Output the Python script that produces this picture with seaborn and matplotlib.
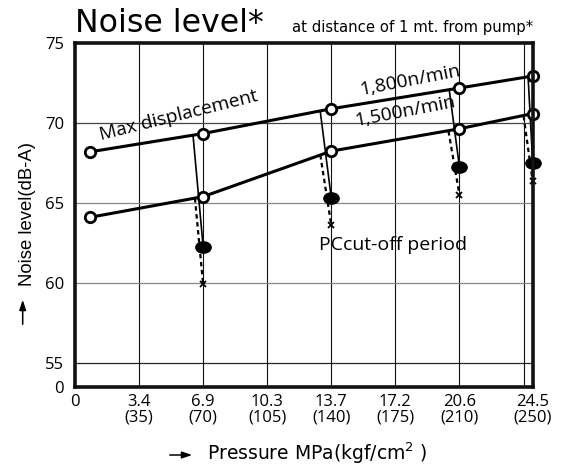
import matplotlib

matplotlib.use("Agg")
import matplotlib.pyplot as plt  # noqa: E402
import seaborn as sns  # noqa: E402
from matplotlib.path import Path  # noqa: E402
from matplotlib.transforms import Affine2D  # noqa: E402

# x axis is laid out in kgf/cm2 (labels give MPa and kgf/cm2)
pressure = [8, 70, 140, 210, 250]
noise_1800 = [68.2, 69.35, 70.9, 72.2, 72.95]
noise_1500 = [64.1, 65.4, 68.25, 69.65, 70.6]

# PC cut-off steps: start on each curve, end at the cut-off level
cut_start_1800_x = [64.5, 134, 204.5, 247.5]
cut_start_1800_y = [69.2, 70.7, 72.0, 72.85]
cut_start_1500_x = [65.5, 134, 204, 245]
cut_start_1500_y = [65.3, 68.0, 69.5, 70.45]
cut_x = [70, 140, 210, 250]
cut_1800 = [62.25, 65.3, 67.25, 67.5]
cut_1500 = [59.9, 63.6, 65.5, 66.35]

xticks = [0, 35, 70, 105, 140, 175, 210, 250]
xtick_labels = ["0", "3.4\n(35)", "6.9\n(70)", "10.3\n(105)", "13.7\n(140)",
                "17.2\n(175)", "20.6\n(210)", "24.5\n(250)"]
xgrid = [35, 70, 105, 140, 175, 210, 245]
yticks = [53.5, 55, 60, 65, 70, 75]
ytick_labels = ["0", "55", "60", "65", "70", "75"]
ygrid = [55, 60, 65, 70]
ygrid_colors = ["#222222", "#888888", "#888888", "#444444"]

sns.set_style("white")
plt.rcParams["font.family"] = ["DejaVu Sans"]
plt.rcParams["text.color"] = "black"
plt.rcParams["xtick.color"] = "black"
plt.rcParams["ytick.color"] = "black"
HUM = ["Open Sans", "DejaVu Sans"]

fig = plt.figure(figsize=(5.63, 4.65), dpi=100)
ax = fig.add_axes([0.1332, 0.1684, 0.9462 - 0.1332, 0.9069 - 0.1684])

# grid
for gx in xgrid:
    ax.axvline(gx, color="#111111", lw=0.8, zorder=1)
for gy, gc in zip(ygrid, ygrid_colors):
    ax.axhline(gy, color=gc, lw=0.9, zorder=1)

# cut-off steps
for x0, y0, x1, y1 in zip(cut_start_1800_x, cut_start_1800_y, cut_x, cut_1800):
    ax.plot([x0, x1], [y0, y1], color="black", lw=1.2, zorder=2, clip_on=False)
for x0, y0, x1, y1 in zip(cut_start_1500_x, cut_start_1500_y, cut_x, cut_1500):
    ax.plot([x0, x1], [y0, y1], color="black", lw=1.6, ls=(0, (2, 1.6)),
            zorder=2, clip_on=False)

# main curves
for series in (noise_1800, noise_1500):
    sns.lineplot(x=pressure, y=series, ax=ax, color="black", lw=2.2,
                 marker="o", markersize=7.5, markerfacecolor="white",
                 markeredgecolor="black", markeredgewidth=2, zorder=4,
                 clip_on=False)

ellipse = Path.unit_circle().transformed(Affine2D().scale(1.35, 1.0))
ax.plot(cut_x, cut_1800, ls="none", marker=ellipse, markersize=11,
        color="black", zorder=5, clip_on=False)
ax.plot(cut_x, cut_1500, ls="none", marker="x", markersize=5,
        markeredgewidth=1.3, color="black", zorder=5, clip_on=False)

ax.set_xlim(0, 250)
ax.set_ylim(53.5, 75)
ax.set_xticks(xticks)
ax.set_xticklabels(xtick_labels, fontfamily=HUM, fontsize=12, linespacing=1.0)
ax.set_yticks(yticks)
ax.set_yticklabels(ytick_labels, fontfamily=HUM, fontsize=12)
ax.tick_params(axis="x", length=0, pad=5)
ax.tick_params(axis="y", length=0, pad=8)
ax.grid(False)
for sp in ax.spines.values():
    sp.set_visible(True)
    sp.set_color("#111111")
    sp.set_linewidth(2.6)
    sp.set_zorder(6)

# in-plot labels
ax.text(14, 68.96, "Max displacement", fontfamily=HUM, fontsize=13.8,
        rotation=14, rotation_mode="anchor", ha="left", va="baseline")
ax.text(156, 71.77, "1,800n/min", fontfamily=HUM, fontsize=13.8,
        rotation=11, rotation_mode="anchor", ha="left", va="baseline")
ax.text(153.5, 69.8, "1,500n/min", fontfamily=HUM, fontsize=13.8,
        rotation=11, rotation_mode="anchor", ha="left", va="baseline")
ax.text(133.4, 62.08, "PCcut-off period", fontfamily=HUM, fontsize=14,
        ha="left", va="baseline")

# titles and axis labels
W, H = 563.0, 465.0
fig.text(75 / W, 1 - 31.7 / H, "Noise level*", fontsize=22.8, va="baseline")
fig.text(291.7 / W, 1 - 32 / H, "at distance of 1 mt. from pump*",
         fontsize=10.7, va="baseline")
fig.text(28 / W, 1 - 213.5 / H, "Noise level(dB-A)", rotation=90,
         ha="center", va="center", fontfamily=["Liberation Sans", "DejaVu Sans"],
         fontsize=13.3)
fig.text(207 / W, 1 - 460 / H, "Pressure MPa(kgf/cm$^{2}$ )", fontsize=13.5,
         va="baseline")

arrow = dict(arrowstyle="-|>,head_length=0.6,head_width=0.2", lw=1.1, color="black")
ax.annotate("", xy=(22.7 / W, 1 - 297 / H), xytext=(22.7 / W, 1 - 327 / H),
            xycoords="figure fraction", textcoords="figure fraction",
            arrowprops=arrow)
ax.annotate("", xy=(195 / W, 1 - 455 / H), xytext=(167 / W, 1 - 455 / H),
            xycoords="figure fraction", textcoords="figure fraction",
            arrowprops=arrow)

fig.savefig("out.png", dpi=100)
plt.close(fig)
